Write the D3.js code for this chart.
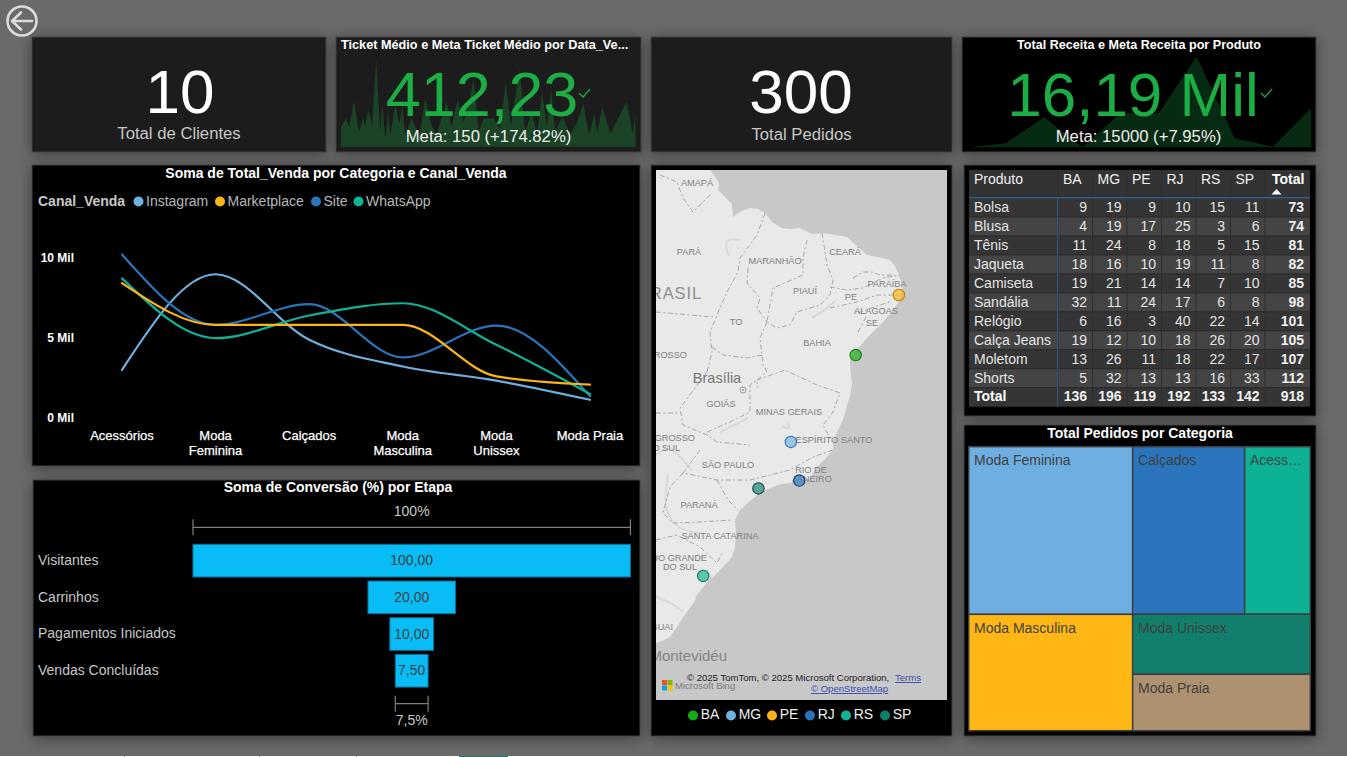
<!DOCTYPE html>
<html lang="pt-BR">
<head>
<meta charset="utf-8">
<title>Painel de Vendas</title>
<script src="https://cdn.jsdelivr.net/npm/d3@7/dist/d3.min.js"></script>
<style>
html,body{margin:0;padding:0;background:#666;overflow:hidden}
svg{display:block}
text{font-family:"Liberation Sans",Arial,sans-serif}
</style>
</head>
<body>
<svg id="c" width="1347" height="757"></svg>
<script>
// ---------- DATA ----------
const categorias = ["Acessórios","Moda Feminina","Calçados","Moda Masculina","Moda Unissex","Moda Praia"];
const canais = ["Instagram","Marketplace","Site","WhatsApp"];
const vendaInstagram   = [2960,8960,4850,3170,2280,1080];
const vendaMarketplace = [8400,5780,5780,5780,2550,2030];
const vendaSite        = [10200,5780,7080,3740,5740,1300];
const vendaWhatsApp    = [8700,4950,6370,7140,4530,1440];
const ticksVenda = [0,5000,10000];

const etapas = ["Visitantes","Carrinhos","Pagamentos Iniciados","Vendas Concluídas"];
const conversao = [100,20,10,7.5];

const ticketDias = [0,5,8,13,18,22,24,27,31,35,39,41,44,47,49,54,58,61,64,70,78,84,90,95,105,110,116,122,127,132,137,142,152,158,164,169,178,183,190,195,200,205,209,213,220,228,235,241,247,252,255,260,268,278,284,288,290,293];
const ticketValores = [180,255,180,405,135,255,195,330,195,780,135,390,75,315,105,375,210,360,105,255,105,435,195,105,405,180,420,225,375,615,135,255,255,165,585,195,705,135,315,105,495,180,525,135,270,120,225,390,105,300,135,360,120,300,405,225,120,285];
const receitaProdutoValores = [0,120,900,0,1020,1020,2720,270,20,1170];

const produtos = ["Bolsa","Blusa","Tênis","Jaqueta","Camiseta","Sandália","Relógio","Calça Jeans","Moletom","Shorts"];
const ufs = ["BA","MG","PE","RJ","RS","SP"];
const pedBA = [9,4,11,18,19,32,6,19,13,5];
const pedMG = [19,19,24,16,21,11,16,12,26,32];
const pedPE = [9,17,8,10,14,24,3,10,11,13];
const pedRJ = [10,25,18,19,14,17,40,18,18,13];
const pedRS = [15,3,5,11,7,6,22,26,22,16];
const pedSP = [11,6,15,8,10,8,14,20,17,33];

const pedidosCategoria = [85,58,34,59,33,31]; // Feminina, Calçados, Acessórios, Masculina, Unissex, Praia
const nomesTreemap = ["Moda Feminina","Calçados","Acessórios","Moda Masculina","Moda Unissex","Moda Praia"];

const capitalLon = [-38.5,-43.9,-34.9,-43.2,-51.2,-46.6];
const capitalLat = [-12.97,-19.9,-8.05,-22.9,-30.0,-23.5];

// ---------- STYLES ----------
const corCanal = ["#6FB0E0","#FDB515","#2A74BC","#0FB295"];
const corUf = ["#18AB10","#6FB0E0","#FDB515","#2A74BC","#0FB295","#0F7F6B"];
const corUfBorda = ["#0c7a0c","#2f74ad","#b9820a","#143f7a","#0b7a66","#0a4b40"];
const corTree = {"Moda Feminina":"#6FAEE0","Calçados":"#2A75BC","Acessórios":"#0DB294","Moda Masculina":"#FEB715","Moda Unissex":"#117F6C","Moda Praia":"#AE9270"};

const svg = d3.select("#c");
const defs = svg.append("defs");
const shadow = defs.append("filter").attr("id","sh").attr("x","-10%").attr("y","-10%").attr("width","120%").attr("height","120%");
shadow.append("feDropShadow").attr("dx",0).attr("dy",2).attr("stdDeviation",7).attr("flood-color","#000").attr("flood-opacity",0.42);

svg.append("rect").attr("width",1347).attr("height",757).attr("fill","#6a6a6a");
// faint bottom tab strip
svg.append("rect").attr("x",0).attr("y",756).attr("width",1347).attr("height",1).attr("fill","#fff");
svg.append("rect").attr("x",459).attr("y",756).attr("width",49).attr("height",1).attr("fill","#117F6C");
[124,259,356].forEach(x=>svg.append("rect").attr("x",x).attr("y",756).attr("width",1).attr("height",1).attr("fill","#999"));

const panels = [
 [32,37,294,115,"#1a1a1a"],[336,37,305,115,"#1a1a1a"],[651,37,301,115,"#1a1a1a"],[962,37,354,115,"#000"],
 [32,165,608,301,"#000"],[33,480,607,256,"#000"],[651,165,301,571,"#000"],[964,165,352,251,"#000"],[964,425,352,311,"#000"]
];
svg.append("g").selectAll("rect").data(panels).join("rect")
 .attr("x",d=>d[0]).attr("y",d=>d[1]).attr("width",d=>d[2]).attr("height",d=>d[3])
 .attr("fill",d=>d[4]).attr("stroke","#444").attr("stroke-width",1).attr("filter","url(#sh)");

// back button
const back = svg.append("g").attr("fill","none").attr("stroke","#dcdcdc").attr("stroke-width",2.6).attr("stroke-linecap","round").attr("stroke-linejoin","round");
back.append("circle").attr("cx",22).attr("cy",21).attr("r",14.5);
back.append("path").attr("d","M12,21H32M21,12.5L12,21L21,29.5");

function txt(parent,s,x,y,o={}){
  return parent.append("text").attr("x",x).attr("y",y).text(s)
   .attr("font-size",o.size||14).attr("font-weight",o.weight||"normal")
   .attr("fill",o.fill||"#fff").attr("text-anchor",o.anchor||"start");
}
function check(x,y){
  svg.append("path").attr("d",`M${x-5},${y}L${x-1},${y+4}L${x+6},${y-4}`).attr("fill","none").attr("stroke","#1CAD45").attr("stroke-width",1.2);
}

// ---------- KPI sparklines ----------
const sparkBase = 146.8;
const xTicket = d3.scaleLinear().domain(d3.extent(ticketDias)).range([341,635.5]);
const yTicket = d3.scaleLinear().domain([0,780]).range([sparkBase,sparkBase-86.7]);
svg.append("path").attr("fill","#1b4326")
 .attr("d",d3.area().x(d=>xTicket(d)).y0(sparkBase).y1((d,i)=>yTicket(ticketValores[i]))(ticketDias));

const xRec = d3.scalePoint().domain(d3.range(receitaProdutoValores.length)).range([968,1311]);
const yRec = d3.scaleLinear().domain([0,2720]).range([147.3,56.7]);
svg.append("path").attr("fill","#072a12")
 .attr("d",d3.area().x((d,i)=>xRec(i)).y0(147.3).y1(d=>yRec(d))(receitaProdutoValores));

// KPI texts
txt(svg,"10",180,112.5,{size:62,anchor:"middle"});
txt(svg,"Total de Clientes",179,139,{size:16.7,anchor:"middle",fill:"#c8c8c8"});
txt(svg,"Ticket Médio e Meta Ticket Médio por Data_Ve...",341,49,{size:12.7,weight:"bold"});
txt(svg,"412,23",482,116,{size:63,anchor:"middle",fill:"#1CAD45"});
check(584,93);
txt(svg,"Meta: 150 (+174.82%)",488.5,142,{size:16.7,anchor:"middle",fill:"#eee"});
txt(svg,"300",801,112.5,{size:62,anchor:"middle"});
txt(svg,"Total Pedidos",801.5,139.5,{size:16.7,anchor:"middle",fill:"#c8c8c8"});
txt(svg,"Total Receita e Meta Receita por Produto",1139,49,{size:12.6,weight:"bold",anchor:"middle"});
txt(svg,"16,19 Mil",1133,116,{size:62,anchor:"middle",fill:"#1CAD45"});
check(1266,93);
txt(svg,"Meta: 15000 (+7.95%)",1138.5,142,{size:16.7,anchor:"middle",fill:"#eee"});

// ---------- Line chart ----------
txt(svg,"Soma de Total_Venda por Categoria e Canal_Venda",336,178,{size:14,weight:"bold",anchor:"middle"});
txt(svg,"Canal_Venda",38,206,{size:14,weight:"bold",fill:"#c8c8c8"});
const legX = [138.5,220,316,358.5];
canais.forEach((c,i)=>{
  svg.append("circle").attr("cx",legX[i]).attr("cy",201.5).attr("r",5).attr("fill",corCanal[i]);
  txt(svg,c,legX[i]+7.5,206,{size:14,fill:"#b8b8b8"});
});
const xLinha = d3.scalePoint().domain(categorias).range([122,590]);
const yLinha = d3.scaleLinear().domain([0,10000]).range([417,257.7]);
const gridY = svg.append("g");
ticksVenda.forEach(t=>txt(gridY,(t/1000)+" Mil",74,yLinha(t)+4.5,{size:12,weight:"bold",anchor:"end"}));
categorias.forEach(c=>{
  const w=c.startsWith("Moda ")&&c!=="Moda Praia"?c.split(" "):[c];
  w.forEach((p,k)=>txt(svg,p,xLinha(c),440+k*15,{size:13,anchor:"middle",fill:"#fff"}).attr("stroke","#fff").attr("stroke-width",0.25));
});
const linha = d3.line().x((d,i)=>xLinha(categorias[i])).y(d=>yLinha(d)).curve(d3.curveMonotoneX);
[vendaInstagram,vendaSite,vendaWhatsApp,vendaMarketplace].forEach((s,i)=>{
  svg.append("path").attr("d",linha(s)).attr("fill","none")
   .attr("stroke",[corCanal[0],corCanal[2],corCanal[3],corCanal[1]][i]).attr("stroke-width",2.2).attr("stroke-linecap","round");
});

// ---------- Funnel ----------
txt(svg,"Soma de Conversão (%) por Etapa",338,492,{size:14,weight:"bold",anchor:"middle"});
const wFun = d3.scaleLinear().domain([0,100]).range([0,437.5]);
const cxFun = 411.7;
const yFun = d3.scaleBand().domain(etapas).range([542.5,688.9]).paddingInner(0.11).paddingOuter(0.05);
const fmtBR = v=>v.toFixed(2).replace(".",",");
etapas.forEach((e,i)=>{
  const w=wFun(conversao[i]), y=yFun(e), h=yFun.bandwidth();
  svg.append("rect").attr("x",cxFun-w/2).attr("y",y).attr("width",w).attr("height",h)
    .attr("fill","#08BDF6").attr("stroke","#0a6f96").attr("stroke-width",1);
  txt(svg,fmtBR(conversao[i]),cxFun,y+h/2+4.5,{size:14,anchor:"middle",fill:"#3f3f3f"});
  txt(svg,e,38,y+h/2+4.3,{size:14,fill:"#c8c8c8"});
});
function ruler(v,y,labelY,label){
  const a=cxFun-wFun(v)/2,b=cxFun+wFun(v)/2;
  svg.append("path").attr("d",`M${a},${y-8}V${y+8}M${a},${y}H${b}M${b},${y-8}V${y+8}`).attr("fill","none").attr("stroke","#808080").attr("stroke-width",1.2);
  txt(svg,label,cxFun,labelY,{size:14,anchor:"middle",fill:"#c8c8c8"});
}
ruler(conversao[0],527.3,516,"100%");
ruler(conversao[3],703.7,725,"7,5%");

// ---------- Map (basemap, pixel-drawn) ----------
const map = svg.append("g");
defs.append("clipPath").attr("id","mc").append("rect").attr("x",656).attr("y",170).attr("width",291).attr("height",530);
const mapG = map.append("g").attr("clip-path","url(#mc)");
mapG.append("rect").attr("x",656).attr("y",170).attr("width",291).attr("height",530).attr("fill","#c8c8c8");
const costa = [[656,160],[710,160],[710,170],[716,178],[719,183],[718,190],[726,198],[732,204],[733,217],[741,211],[750,208],[758,209],[765,213],[772,222],[782,228],[790,229],[800,228],[812,234],[823,233],[836,235],[847,237],[858,247],[867,255],[878,257],[890,260],[895,266],[898,273],[901,281],[902,288],[901,296],[898,303],[890,314],[883,322],[875,330],[867,338],[861,345],[855,352],[850,358],[850,365],[851,375],[852,385],[850,396],[847,405],[845,414],[842,422],[837,432],[833,442],[833,450],[825,459],[817,467],[810,478],[800,481],[790,483],[781,484],[773,487],[766,490],[760,493],[750,501],[740,510],[735,520],[736,534],[735,547],[732,557],[725,565],[717,573],[708,583],[700,593],[692,605],[683,617],[677,627],[670,637],[662,641],[656,643]];
mapG.append("path").attr("d",d3.line()(costa)+"Z").attr("fill","#e9e9e9");
mapG.append("path").attr("d",d3.line()([[695,597],[705,585],[713,574],[708,588],[698,600]])+"Z").attr("fill","#c8c8c8");
const rios = [[[656,455],[668,447],[676,452],[692,470]],[[782,426],[790,430],[788,422]],[[740,240],[728,238],[725,246],[729,256]],[[835,301],[825,310],[812,318]],[[656,597],[672,603],[683,612]],[[668,475],[663,510],[678,530],[700,533]],[[720,432],[735,425],[748,418]]];
mapG.append("g").selectAll("path").data(rios).join("path").attr("d",d=>d3.line().curve(d3.curveBasis)(d))
  .attr("fill","none").attr("stroke","#d8d8d8").attr("stroke-width",2);
const fronteiras = [
 [[660,175],[677,182],[683,198],[693,212],[712,193]],
 [[765,213],[757,235],[740,258],[738,272],[727,292],[717,315],[710,332],[712,352],[707,372]],
 [[656,312],[713,317]],
 [[748,268],[747,283],[760,298],[757,308],[767,322]],
 [[807,240],[803,258],[803,275],[773,288],[767,322]],
 [[822,233],[827,265],[833,280],[830,295],[820,305],[797,312],[790,325],[777,328],[767,322]],
 [[767,322],[760,338],[763,365],[767,372],[757,380],[757,388]],
 [[712,347],[723,355],[747,358],[763,355]],
 [[757,380],[785,370],[817,385],[840,393],[833,412],[823,425],[832,442]],
 [[830,287],[847,290],[863,288],[883,278],[900,275]],
 [[830,308],[857,302],[877,295],[900,295]],
 [[858,313],[880,305],[890,302]],
 [[858,332],[867,315]],
 [[853,278],[863,272],[872,272],[880,275],[895,275]],
 [[707,432],[730,422],[750,412],[750,385],[757,380]],
 [[707,372],[680,408],[683,425],[707,435],[717,442],[750,445]],
 [[656,413],[680,413]],
 [[700,450],[683,473],[717,480],[750,480],[790,470],[813,457],[833,450]],
 [[717,480],[728,500],[738,510]],
 [[683,473],[670,487],[663,513],[673,523],[700,522],[733,520]],
 [[656,540],[677,535],[700,547],[717,563],[722,553]]
];
mapG.append("g").selectAll("path").data(fronteiras).join("path").attr("d",d=>d3.line()(d))
  .attr("fill","none").attr("stroke","#a8a8a8").attr("stroke-width",1).attr("stroke-dasharray","5 2.5 2 2.5");
const rotulos = [["AMAPÁ",697,186],["PARÁ",689,255],["MARANHÃO",775,264],["CEARÁ",845,255],["PARAÍBA",887,287],["PIAUÍ",805,294],["PE",851,300],["ALAGOAS",876,314],["SE",872,326],["TO",736,325],["BAHIA",817,346],["GOIÁS",721,407],["MINAS GERAIS",789,415],["ESPÍRITO SANTO",834,443],["SÃO PAULO",728,468],["RIO DE",811,473],["JANEIRO",812,482],["PARANÁ",699,508],["SANTA CATARINA",720,539],["DO SUL",680,570]];
rotulos.forEach(r=>txt(mapG,r[0],r[1],r[2],{size:9.2,anchor:"middle",fill:"#808080"}));
[["GROSSO",687,358],["GROSSO",695,441],["DO SUL",680,451],["RIO GRANDE",707,561],["URUGUAI",673,630]].forEach(r=>txt(mapG,r[0],r[1],r[2],{size:9.2,anchor:"end",fill:"#808080"}));
txt(mapG,"BRASIL",702,299,{size:16.5,anchor:"end",fill:"#8f8f8f"}).attr("letter-spacing",0.9);
txt(mapG,"Brasília",717,383,{size:14.5,anchor:"middle",fill:"#777"});
txt(mapG,"Montevidéu",727,661,{size:15,anchor:"end",fill:"#858585"});
mapG.append("circle").attr("cx",743).attr("cy",390).attr("r",3).attr("fill","none").attr("stroke","#999");
mapG.append("circle").attr("cx",743).attr("cy",390).attr("r",1).attr("fill","#999");
txt(mapG,"© 2025 TomTom, © 2025 Microsoft Corporation,",687,681,{size:9.55,fill:"#222"});
txt(mapG,"Terms",895,681,{size:9.55,fill:"#3a4fb0"}).attr("text-decoration","underline");
txt(mapG,"© OpenStreetMap",811,692,{size:9.55,fill:"#3a4fb0"}).attr("text-decoration","underline");
[["#F25022",662,680],["#7FBA00",667.5,680],["#00A4EF",662,685.5],["#FFB900",667.5,685.5]].forEach(q=>
  mapG.append("rect").attr("x",q[1]).attr("y",q[2]).attr("width",5).attr("height",5).attr("fill",q[0]));
txt(mapG,"Microsoft Bing",675,689,{size:9.5,fill:"#7a7a7a"});

// state dots via a Mercator projection
const proj = d3.geoMercator().scale(688).translate([1318,198]);
ufs.forEach((u,i)=>{
  const p = proj([capitalLon[i],capitalLat[i]]);
  mapG.append("circle").attr("cx",p[0]).attr("cy",p[1]).attr("r",5.7)
   .attr("fill",corUf[i]).attr("fill-opacity",0.65).attr("stroke",corUfBorda[i]).attr("stroke-width",1.1);
});
const legUf = [693,731,772,810,846,885];
ufs.forEach((u,i)=>{
  svg.append("circle").attr("cx",legUf[i]).attr("cy",715.5).attr("r",5).attr("fill",corUf[i]);
  txt(svg,u,legUf[i]+7.7,719,{size:14,fill:"#eee"});
});

// ---------- Table ----------
const tb = svg.append("g");
const colsPed = [pedBA,pedMG,pedPE,pedRJ,pedRS,pedSP];
const xCol = d3.scaleBand().domain(ufs).range([1058,1265]);
const yRow = d3.scaleBand().domain(d3.range(11)).range([198,406.7]);
const tL=969,tR=1310,xTotalR=1304;
tb.append("rect").attr("x",tL).attr("y",170).attr("width",tR-tL).attr("height",28).attr("fill","#333");
d3.range(11).forEach(r=>{
  tb.append("rect").attr("x",tL).attr("y",yRow(r)).attr("width",tR-tL).attr("height",yRow.bandwidth())
    .attr("fill",(r%2===1&&r<10)?"#444":"#353535");
  tb.append("line").attr("x1",tL).attr("x2",tR).attr("y1",yRow(r)).attr("y2",yRow(r)).attr("stroke","#2b2b2b");
});
[1058].concat(ufs.map(u=>xCol(u)+xCol.bandwidth())).forEach((x,k)=>{
  tb.append("line").attr("x1",x).attr("x2",x).attr("y1",170).attr("y2",406.7).attr("stroke","#2e2e2e");
});
tb.append("line").attr("x1",1057.7).attr("x2",1057.7).attr("y1",198).attr("y2",406.7).attr("stroke","#2f5f8a");
tb.append("line").attr("x1",tL).attr("x2",tR).attr("y1",197.7).attr("y2",197.7).attr("stroke","#2f5f8a").attr("stroke-width",1.5);
txt(tb,"Produto",974,183.5,{size:14,fill:"#f0f0f0"});
ufs.forEach(u=>txt(tb,u,xCol(u)+5,183.5,{size:14,fill:"#f0f0f0"}));
txt(tb,"Total",1272,183.5,{size:14,weight:"bold"});
tb.append("path").attr("d","M1271.5,194.5L1276.5,189L1281.5,194.5Z").attr("fill","#fff");
produtos.forEach((p,r)=>{
  const y=yRow(r)+13.8;
  txt(tb,p,974,y,{size:14,fill:"#e4e4e4"});
  ufs.forEach((u,c)=>txt(tb,colsPed[c][r],xCol(u)+xCol.bandwidth()-5.5,y,{size:14,anchor:"end",fill:"#e4e4e4"}));
  txt(tb,d3.sum(colsPed,col=>col[r]),xTotalR,y,{size:14,weight:"bold",anchor:"end",fill:"#f0f0f0"});
});
const yT=yRow(10)+13.3;
txt(tb,"Total",974,yT,{size:14,weight:"bold"});
ufs.forEach((u,c)=>txt(tb,d3.sum(colsPed[c]),xCol(u)+xCol.bandwidth()-5.5,yT,{size:14,weight:"bold",anchor:"end",fill:"#f0f0f0"}));
txt(tb,d3.sum(colsPed,col=>d3.sum(col)),xTotalR,yT,{size:14,weight:"bold",anchor:"end",fill:"#f0f0f0"});

// ---------- Treemap ----------
txt(svg,"Total Pedidos por Categoria",1140,438,{size:14,weight:"bold",anchor:"middle"});
const pedidoDe = n=>pedidosCategoria[nomesTreemap.indexOf(n)];
const folha = n=>({name:n,value:pedidoDe(n)});
const arvore = {children:[
  {kind:"slice",children:[folha("Moda Feminina"),folha("Moda Masculina")]},
  {kind:"slice",children:[
     {kind:"dice",children:[folha("Calçados"),folha("Acessórios")]},
     {kind:"slice",children:[folha("Moda Unissex"),folha("Moda Praia")]}
  ]}
],kind:"dice"};
const raiz = d3.hierarchy(arvore).sum(d=>d.value||0);
d3.treemap().size([341.6,284]).round(false)
  .tile((n,x0,y0,x1,y1)=>(n.data.kind==="dice"?d3.treemapDice:d3.treemapSlice)(n,x0,y0,x1,y1))(raiz);
const tree = svg.append("g").attr("transform","translate(968.7,446.7)");
const folhas = raiz.leaves();
tree.selectAll("rect").data(folhas).join("rect")
  .attr("x",d=>d.x0).attr("y",d=>d.y0).attr("width",d=>d.x1-d.x0).attr("height",d=>d.y1-d.y0)
  .attr("fill",d=>corTree[d.data.name]).attr("stroke","#3c4043").attr("stroke-width",1.5);
folhas.forEach(d=>{
  const t = d.data.name==="Acessórios" ? "Acess…" : d.data.name;
  txt(tree,t,d.x0+5.3,d.y0+(d.y0>100?18.8:18),{size:14,fill:"#404040"});
});
</script>
</body>
</html>
